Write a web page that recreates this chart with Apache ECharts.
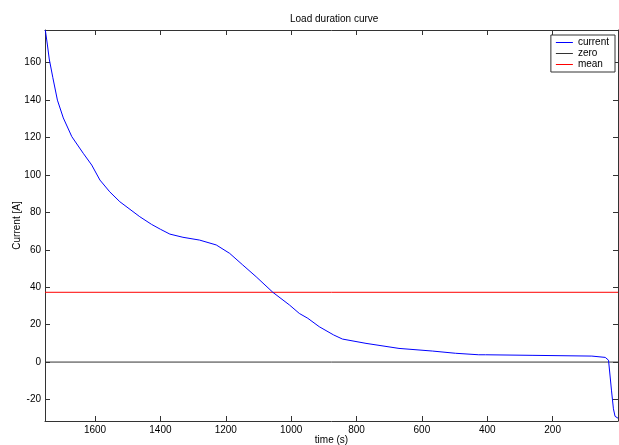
<!DOCTYPE html>
<html>
<head>
<meta charset="utf-8">
<script src="https://cdn.jsdelivr.net/npm/echarts@6/dist/echarts.min.js"></script>
<style>
  html, body { margin: 0; padding: 0; background: #fff; }
  #chart { width: 619px; height: 445px; }
</style>
</head>
<body>
<div id="chart"></div>
<script>
// time axis runs from the longest duration (left) down to 0 (right)
var timeS = [1752, 1746, 1740, 1729, 1715, 1697, 1671, 1636, 1610, 1585, 1555, 1524, 1463, 1427, 1400,
  1371, 1331, 1280, 1229, 1188, 1148, 1107, 1056, 1005, 975, 949, 914, 870, 843, 771,
  670, 568, 497, 426, 405, 263, 80, 39, 29, 20, 14, 9, 0];
var currentA = [177.5, 170, 162, 152, 140, 130.5, 120.5, 111.6, 105.3, 97.3, 91, 85.7, 77.7, 73.6, 71,
  68.4, 66.7, 65.2, 62.6, 58.1, 51.9, 45.6, 37.3, 30.5, 26, 23.4, 18.9, 14.5, 12.3, 10,
  7.3, 5.9, 4.7, 3.9, 3.9, 3.6, 3.2, 2.5, 1.0, -15, -25, -29, -30];
var meanA = 37.3;
var timeMax = 1753;
var yMin = -31.5, yMax = 177.5;

var font = "'Liberation Sans', Arial, sans-serif";
var frameColor = '#333';

var curve = timeS.map(function (t, i) { return [t, currentA[i]]; });

function xAxisCfg(pos, showLabel) {
  return {
    type: 'value',
    position: pos,
    inverse: true,
    min: 0,
    max: timeMax,
    interval: 200,
    name: showLabel ? 'time (s)' : '',
    nameLocation: 'middle',
    nameGap: 14,
    nameMoveOverlap: false,
    nameTextStyle: { fontFamily: font, fontSize: 10, color: '#000' },
    axisLine: { show: true, onZero: false, lineStyle: { color: frameColor, width: 1 } },
    axisTick: { show: true, inside: true, length: 5, lineStyle: { color: frameColor } },
    axisLabel: {
      show: showLabel, fontFamily: font, fontSize: 10, color: '#000', margin: 4,
      formatter: function (v) { return (v > 0 && v % 200 === 0) ? String(v) : ''; }
    },
    splitLine: { show: false }
  };
}

function yAxisCfg(pos, showLabel) {
  return {
    type: 'value',
    position: pos,
    min: yMin,
    max: yMax,
    splitNumber: 10,
    name: showLabel ? 'Current [A]' : '',
    nameLocation: 'middle',
    nameGap: 23,
    nameMoveOverlap: false,
    nameTextStyle: { fontFamily: font, fontSize: 10, color: '#000' },
    axisLine: { show: true, onZero: false, lineStyle: { color: frameColor, width: 1 } },
    axisTick: { show: true, inside: true, length: 5, lineStyle: { color: frameColor } },
    axisLabel: {
      show: showLabel, fontFamily: font, fontSize: 10, color: '#000', margin: 4,
      formatter: function (v) { return (Math.abs(v % 20) < 1e-9) ? String(v) : ''; }
    },
    splitLine: { show: false }
  };
}

var myChart = echarts.init(document.getElementById('chart'));
var option = {
  animation: false,
  backgroundColor: '#fff',
  title: {
    text: 'Load duration curve',
    left: 290,
    top: 14,
    padding: 0,
    textStyle: { fontFamily: font, fontSize: 10, fontWeight: 'normal', color: '#000' }
  },
  legend: {
    data: ['current', 'zero', 'mean'],
    orient: 'vertical',
    right: 4,
    top: 35,
    backgroundColor: '#fff',
    borderColor: frameColor,
    borderWidth: 1,
    padding: [2, 6, 2, 5],
    itemGap: 0,
    icon: 'rect',
    itemWidth: 17,
    itemHeight: 1,
    textStyle: { fontFamily: font, fontSize: 10, color: '#000', lineHeight: 11 }
  },
  grid: { left: 45, right: 1, top: 30, bottom: 24, containLabel: false, outerBoundsMode: 'none' },
  xAxis: [xAxisCfg('bottom', true), xAxisCfg('top', false)],
  yAxis: [yAxisCfg('left', true), yAxisCfg('right', false)],
  series: [
    {
      name: 'current',
      type: 'line',
      symbol: 'none',
      data: curve,
      lineStyle: { color: '#0000ff', width: 1 },
      itemStyle: { color: '#0000ff' },
      z: 3
    },
    {
      name: 'zero',
      type: 'line',
      symbol: 'none',
      data: [[timeMax, 0], [0, 0]],
      lineStyle: { color: '#333', width: 1 },
      itemStyle: { color: '#333' },
      z: 2
    },
    {
      name: 'mean',
      type: 'line',
      symbol: 'none',
      data: [[timeMax, meanA], [0, meanA]],
      lineStyle: { color: '#ff0000', width: 1 },
      itemStyle: { color: '#ff0000' },
      z: 2
    }
  ]
};
myChart.setOption(option, true);
</script>
</body>
</html>
